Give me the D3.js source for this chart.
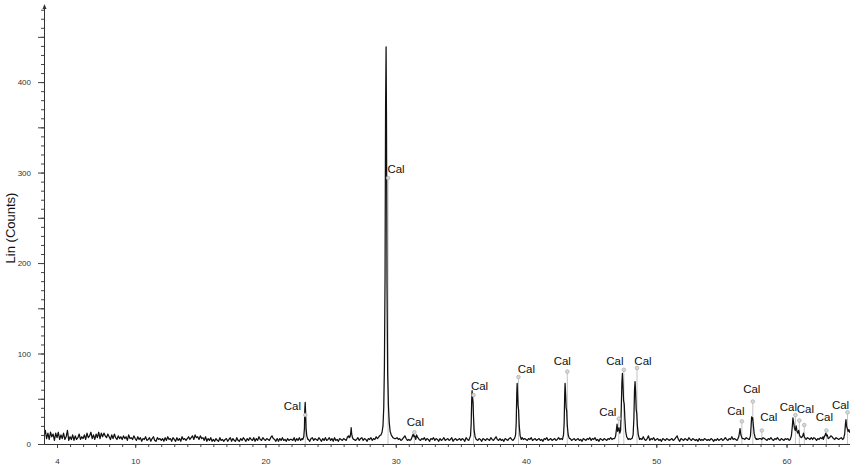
<!DOCTYPE html>
<html><head><meta charset="utf-8">
<script src="https://cdn.jsdelivr.net/npm/d3@7"></script>
<style>body{margin:0;background:#fff}svg{display:block}</style>
</head><body><svg id="c" width="850" height="472"></svg>
<script>
// ---------- DATA ----------
const scanStart = 3.0, scanStep = 0.1;
const baselineCounts = [
 9,15,6,12,5,13,8,11,4,12,
 7,13,5,10,6,12,5,8,15,4,
 8,5,10,4,9,5,7,11,5,8,
 6,10,5,12,7,9,13,6,10,5,
 11,7,13,6,12,8,12,9,7,11,
 8,5,10,6,11,7,5,9,6,8,
 5,9,6,8,4,10,6,7,5,9,
 6,4,8,5,7,3,6,5,8,4,
 5,7,3,6,8,4,3,7,5,6,
 4,6,3,7,4,8,5,6,3,7,
 5,3,7,4,6,3,8,5,6,4,
 6,8,5,7,9,5,10,7,8,5,
 9,6,7,4,8,3,6,4,7,3,
 5,3,6,4,3,7,4,5,3,5,
 6,3,5,7,3,6,4,3,7,4,
 3,6,4,7,5,3,6,4,7,5,
 4,7,3,6,4,8,5,4,7,5,
 4,6,5,4,7,9,6,5,3,6,
 3,6,4,7,4,5,3,6,4,5,
 5,4,7,3,6,4,7,4,6,4,
 5,4,6,5,3,6,7,4,6,5,
 4,7,5,3,6,4,7,4,5,7,
 4,6,3,7,4,5,3,6,5,4,
 6,5,4,8,9,7,8,6,5,4,
 5,7,4,6,7,4,6,5,3,6,
 5,7,4,6,5,8,6,7,8,9,
 10,12,14,16,18,16,12,9,7,6,
 6,7,5,6,4,5,7,9,6,4,
 5,4,6,9,5,8,10,7,5,4,
 6,5,7,4,6,5,3,6,5,7,
 4,6,5,3,6,4,5,7,4,5,
 6,4,5,7,3,5,6,4,5,6,
 4,6,5,3,7,5,4,6,8,6,
 6,7,5,4,6,5,3,6,5,4,
 6,5,4,7,5,4,6,8,5,4,
 6,4,5,3,6,5,4,6,7,5,
 4,6,5,7,6,8,9,7,5,6,
 5,4,6,5,7,4,5,6,4,5,
 6,4,5,3,6,5,7,4,5,6,
 4,5,6,4,5,7,5,6,4,6,
 5,6,7,5,6,4,5,6,4,5,
 6,4,5,3,6,5,4,6,5,7,
 4,6,5,7,4,5,3,6,5,4,
 6,5,4,6,5,7,5,6,7,6,
 7,8,9,10,12,14,13,9,7,6,
 5,6,7,8,9,10,8,7,6,5,
 8,5,4,6,9,4,6,5,7,4,
 5,6,4,5,3,6,5,4,6,5,
 4,5,6,4,5,7,9,5,3,6,
 5,4,6,5,4,7,5,4,6,5,
 4,5,3,6,4,5,4,6,5,4,
 5,4,6,5,3,5,4,6,4,5,
 6,4,5,7,5,4,6,5,8,5,
 6,5,4,7,5,6,8,6,5,7,
 6,5,7,8,9,8,7,6,5,6,
 6,5,7,6,5,4,6,5,7,5,
 4,6,5,7,5,4,6,5,4,6,
 5,6,4,5,7,9,8,7,9,8,
 7,6,8,7,6,5,7,6,5,7,
 5,7,6,4,6,5,7,6,8,6,
 7,6,8,7,9,8,6,5,7,6,
 5,6,7,5,6,7,6,8,9,10
];
// measured peak profiles [2theta, counts]
const peakProfiles = [
 [[22.86,5],[22.94,8],[22.99,17],[23.02,38],[23.05,46],[23.08,35],[23.12,17],[23.17,9],[23.26,5]],
 [[26.42,7],[26.50,8],[26.55,13],[26.58,18],[26.62,11],[26.68,7],[26.76,5]],
 [[28.66,7],[28.76,9],[28.86,10],[28.95,13],[29.02,20],[29.08,40],[29.13,85],[29.18,185],[29.22,370],[29.26,439],[29.29,360],[29.33,175],[29.38,78],[29.44,42],[29.50,24],[29.57,14],[29.66,10],[29.78,7]],
 [[31.18,5],[31.26,8],[31.31,10],[31.35,11],[31.40,8],[31.46,9],[31.54,5]],
 [[35.66,6],[35.74,9],[35.79,22],[35.83,48],[35.86,59],[35.89,50],[35.93,46],[35.97,30],[36.02,15],[36.09,8],[36.18,5]],
 [[39.12,6],[39.20,10],[39.25,24],[39.29,55],[39.32,67],[39.35,56],[39.39,42],[39.43,38],[39.48,20],[39.55,9],[39.64,5]],
 [[42.80,5],[42.88,10],[42.93,24],[42.97,55],[43.00,67],[43.04,55],[43.08,40],[43.12,37],[43.17,20],[43.24,10],[43.33,6]],
 [[46.80,6],[46.88,9],[46.94,16],[46.99,22],[47.04,14],[47.09,16],[47.14,18],[47.20,12],[47.26,15],[47.31,38],[47.36,68],[47.40,78],[47.44,66],[47.49,48],[47.54,44],[47.59,28],[47.65,14],[47.73,8],[47.84,5]],
 [[48.14,6],[48.22,10],[48.28,28],[48.33,60],[48.37,69],[48.41,58],[48.46,38],[48.50,34],[48.55,20],[48.62,10],[48.72,5]],
 [[56.24,5],[56.33,8],[56.38,12],[56.43,17],[56.47,12],[56.52,9],[56.60,6]],
 [[57.14,5],[57.23,9],[57.28,20],[57.32,30],[57.36,27],[57.40,29],[57.45,21],[57.51,12],[57.59,7],[57.68,5]],
 [[60.28,5],[60.37,9],[60.44,19],[60.49,29],[60.54,24],[60.60,18],[60.67,15],[60.74,20],[60.80,14],[60.87,12],[60.93,15],[60.99,10],[61.06,8],[61.15,7],[61.24,9],[61.30,12],[61.36,8],[61.45,6]],
 [[62.82,5],[62.90,8],[62.96,10],[63.01,12],[63.06,9],[63.12,10],[63.20,6]],
 [[64.38,6],[64.46,11],[64.52,22],[64.56,27],[64.60,20],[64.66,17],[64.72,14],[64.78,16],[64.84,13],[64.87,15]]
];
// calcite reference pattern (sticks)
const calAngles  = [23.06,29.41,31.43,35.97,39.42,43.17,47.12,47.51,48.52,56.57,57.41,58.10,60.68,60.98,61.36,63.06,64.68];
const calHeights = [32,294,13,54,74,80,28,82,84,25,47,15,32,26,21,15,35];
const calLabels  = ["Cal","Cal","Cal","Cal","Cal","Cal","Cal","Cal","Cal","Cal","Cal","Cal","Cal","Cal","","Cal","Cal"];
const xTickLabels = [4,10,20,30,40,50,60];
const yTickLabels = [0,100,200,300,400];
const yTitle = "Lin (Counts)";

// ---------- LAYOUT ----------
const labelNudge = [[-13,-9],[8,-9],[1,-10],[6,-9],[8,-8],[-5,-11],[-11,-7],[-9,-9],[6,-7],[-6,-10],[-1,-12],[7,-13],[-7,-8],[6,-11],[0,0],[-2,-13],[-7,-7]];
const svg = d3.select("#c");
const x = d3.scaleLinear([3.0, 64.87], [44, 850]);
const y = d3.scaleLinear([0, 483], [444, 7]);

// merge scan points
const ranges = peakProfiles.map(p => [p[0][0], p[p.length-1][0]]);
let pts = baselineCounts.map((c,i) => [+(scanStart + i*scanStep).toFixed(2), c])
  .filter(d => !ranges.some(r => d[0] >= r[0] && d[0] <= r[1]));
peakProfiles.forEach(p => pts = pts.concat(p));
pts.sort((a,b) => a[0]-b[0]);
pts = pts.filter(d => d[0] <= 64.87);

svg.append("clipPath").attr("id","clip").append("rect")
  .attr("x",44).attr("y",0).attr("width",806).attr("height",445);

// sticks
const g = svg.append("g").attr("clip-path","url(#clip)");
g.selectAll("line.stick").data(calAngles).join("line")
  .attr("x1", d=>x(d)).attr("x2", d=>x(d))
  .attr("y1", y(0)).attr("y2", (d,i)=>y(calHeights[i]))
  .attr("stroke","#c4c4c4").attr("stroke-width",1);

// scan line
g.append("path").datum(pts)
  .attr("d", d3.line().x(d=>x(d[0])).y(d=>y(d[1])))
  .attr("fill","none").attr("stroke","#111").attr("stroke-width",1.25)
  .attr("stroke-linejoin","round");

// markers
svg.selectAll("circle.mk").data(calAngles).join("circle")
  .attr("cx", d=>x(d)).attr("cy",(d,i)=>y(calHeights[i])).attr("r",1.8)
  .attr("fill","#d8d8d8").attr("stroke","#b0b0b0").attr("stroke-width",0.8);

// labels
svg.selectAll("text.cal").data(calAngles).join("text")
  .attr("x",(d,i)=>x(d)+labelNudge[i][0]).attr("y",(d,i)=>y(calHeights[i])+labelNudge[i][1])
  .attr("text-anchor","middle").attr("dominant-baseline","central")
  .attr("font-family","Liberation Sans, Arial, sans-serif").attr("font-size",11.5)
  .attr("fill","#111").text((d,i)=>calLabels[i]);

// axes
const fontF = "Liberation Sans, Arial, sans-serif";
function styleAxis(sel){ sel.select(".domain").remove(); sel.selectAll("line").attr("stroke","#444"); sel.selectAll("text").attr("font-family",fontF).attr("font-size",8).attr("fill","#333"); }

svg.append("g").attr("transform","translate(0,444)")
  .call(d3.axisBottom(x).tickValues(d3.range(4,65)).tickSize(3).tickFormat(""))
  .call(styleAxis);
svg.append("g").attr("transform","translate(0,444)")
  .call(d3.axisBottom(x).tickValues(xTickLabels).tickSize(4).tickPadding(10).tickFormat(d3.format("d")))
  .call(styleAxis);
svg.append("g").attr("transform","translate(44,0)")
  .call(d3.axisLeft(y).tickValues(d3.range(0,481,10)).tickSize(3).tickFormat(""))
  .call(styleAxis);
svg.append("g").attr("transform","translate(44,0)")
  .call(d3.axisLeft(y).tickValues(d3.range(0,481,50)).tickSize(6).tickFormat(""))
  .call(styleAxis);
svg.append("g").attr("transform","translate(44,0)")
  .call(d3.axisLeft(y).tickValues(yTickLabels).tickSize(0).tickPadding(13).tickFormat(d3.format("d")))
  .call(styleAxis);

svg.append("line").attr("x1",44).attr("x2",850).attr("y1",444.5).attr("y2",444.5).attr("stroke","#333");
svg.append("line").attr("x1",44.5).attr("x2",44.5).attr("y1",444).attr("y2",6).attr("stroke","#333");
svg.append("path").attr("d","M42.5,9 L44.5,4 L46.5,9 Z").attr("fill","#333");

svg.append("text").attr("transform","translate(15,228) rotate(-90)")
  .attr("text-anchor","middle").attr("font-family",fontF).attr("font-size",13)
  .attr("fill","#111").text(yTitle);
</script></body></html>
